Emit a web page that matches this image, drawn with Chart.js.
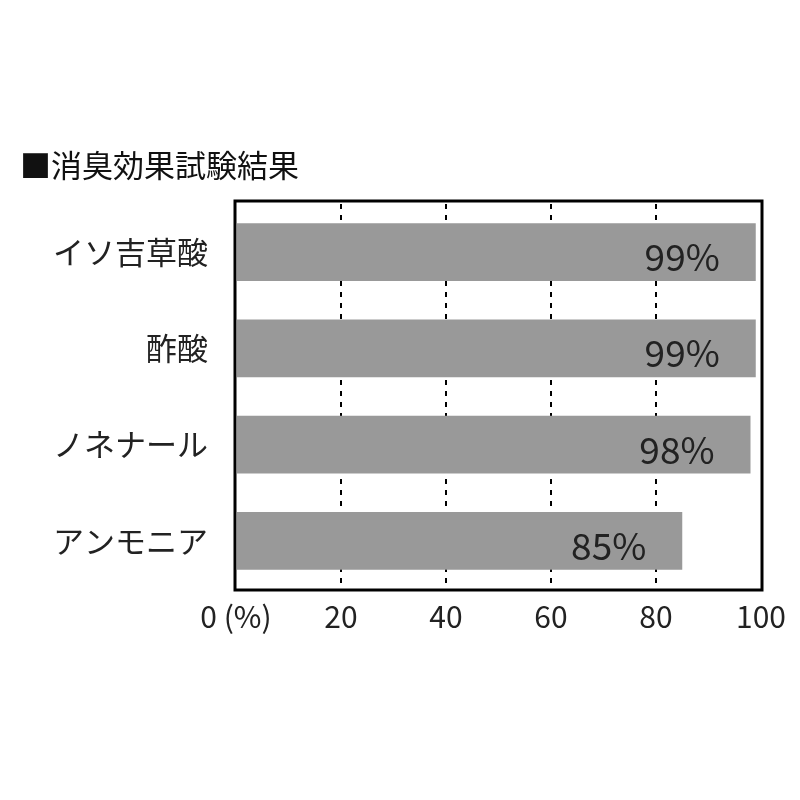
<!DOCTYPE html>
<html>
<head>
<meta charset="utf-8">
<script src="https://cdn.jsdelivr.net/npm/chart.js@4"></script>
<style>
html,body{margin:0;padding:0;background:#fff;}
#wrap{width:800px;height:800px;position:relative;}
</style>
</head>
<body>
<div id="wrap"><canvas id="c" width="800" height="800"></canvas></div>
<script>
const titleText = "■消臭効果試験結果";
const categories = ["イソ吉草酸", "酢酸", "ノネナール", "アンモニア"];
const values = [99, 99, 98, 85];
const valueLabels = ["99%", "99%", "98%", "85%"];
const tickLabels = {0: "0 (%)", 20: "20", 40: "40", 60: "60", 80: "80", 100: "100"};

const FONT = "'Noto Sans CJK JP', 'Noto Sans', sans-serif";

const framePlugin = {
  id: 'frame',
  afterDraw(chart) {
    const {ctx, chartArea: a} = chart;
    ctx.save();
    ctx.strokeStyle = '#000';
    ctx.lineWidth = 3;
    ctx.strokeRect(a.left - 1, a.top - 3, a.right - a.left + 2, a.bottom - a.top + 4);
    ctx.restore();
  }
};

const labelPlugin = {
  id: 'valLabels',
  afterDatasetsDraw(chart) {
    const {ctx} = chart;
    const meta = chart.getDatasetMeta(0);
    ctx.save();
    ctx.font = "37px " + FONT;
    ctx.fillStyle = '#222';
    ctx.textAlign = 'right';
    ctx.textBaseline = 'middle';
    meta.data.forEach((bar, i) => {
      ctx.fillText(valueLabels[i], bar.x - 36, bar.y + 5);
    });
    ctx.restore();
  }
};

const titlePlugin = {
  id: 'topTitle',
  afterDraw(chart) {
    const {ctx} = chart;
    ctx.save();
    ctx.font = "31px " + FONT;
    ctx.fillStyle = '#111';
    ctx.textAlign = 'left';
    ctx.textBaseline = 'middle';
    ctx.fillText(titleText, 20, 165);
    ctx.restore();
  }
};

new Chart(document.getElementById('c'), {
  type: 'bar',
  data: {
    labels: categories,
    datasets: [{
      data: values,
      backgroundColor: '#999999',
      borderWidth: 0,
      categoryPercentage: 1.0,
      barPercentage: 0.6
    }]
  },
  options: {
    indexAxis: 'y',
    responsive: false,
    animation: false,
    layout: { padding: { top: 204, right: 39, bottom: 150, left: 0 } },
    plugins: { legend: { display: false }, tooltip: { enabled: false }, title: { display: false } },
    scales: {
      x: {
        min: 0, max: 100,
        afterFit(s) { s.height = 61; },
        ticks: {
          stepSize: 20,
          color: '#222',
          font: { size: 30, family: FONT },
          padding: 10,
          maxRotation: 0,
          callback: (v) => tickLabels[v] !== undefined ? tickLabels[v] : ''
        },
        grid: {
          drawTicks: false,
          color: (c) => (c.tick && (c.tick.value === 0 || c.tick.value === 100)) ? 'rgba(0,0,0,0)' : '#000',
          lineWidth: 2
        },
        border: { display: false, dash: [5, 6] }
      },
      y: {
        afterFit(s) { s.width = 236; },
        ticks: {
          color: '#222',
          font: { size: 31, family: FONT },
          padding: 28
        },
        grid: { display: false, drawTicks: false },
        border: { display: false }
      }
    }
  },
  plugins: [framePlugin, labelPlugin, titlePlugin]
});
</script>
</body>
</html>
